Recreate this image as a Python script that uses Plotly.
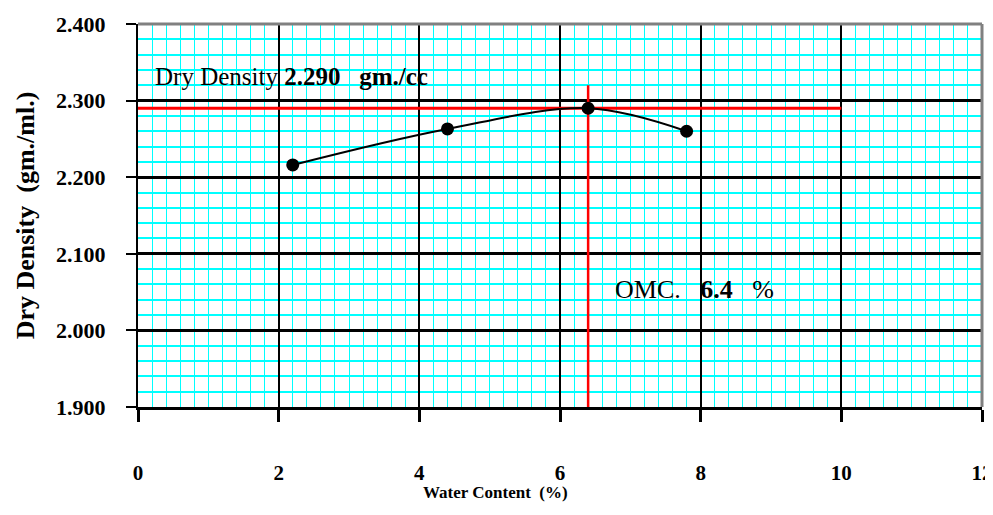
import plotly.graph_objects as go

# compaction test readings
water_content = [2.2, 4.4, 6.4, 7.8]
dry_density = [2.216, 2.263, 2.290, 2.260]

# result values
mdd = 2.290
omc = 6.4

x_ticks = [0, 2, 4, 6, 8, 10, 12]
y_ticks = [1.9, 2.0, 2.1, 2.2, 2.3, 2.4]
y_tick_text = ["1.900", "2.000", "2.100", "2.200", "2.300", "2.400"]

serif = "Liberation Serif, Times New Roman, serif"

fig = go.Figure()

# red guide lines for MDD / OMC
fig.add_trace(go.Scatter(
    x=[0, 10], y=[mdd, mdd], mode="lines",
    line=dict(color="#ff0000", width=3), hoverinfo="skip"
))
fig.add_trace(go.Scatter(
    x=[omc, omc], y=[1.9, 2.32], mode="lines",
    line=dict(color="#ff0000", width=2.5), hoverinfo="skip"
))

fig.add_trace(go.Scatter(
    x=water_content, y=dry_density, mode="lines+markers",
    line=dict(color="black", width=2, shape="spline", smoothing=1.0),
    marker=dict(color="black", size=13)
))

fig.add_annotation(
    x=0.22, y=2.331, xref="x", yref="y", xanchor="left", yanchor="middle",
    text="Dry Density <b>2.290   gm./cc</b>", showarrow=False,
    font=dict(family=serif, size=25, color="black")
)
fig.add_annotation(
    x=6.76, y=2.053, xref="x", yref="y", xanchor="left", yanchor="middle",
    text="OMC.   <b>6.4</b>   %", showarrow=False,
    font=dict(family=serif, size=26, color="black")
)
# x axis title (sits left of centre in the original)
fig.add_annotation(
    x=0.423, y=-0.222, xref="paper", yref="paper", xanchor="center", yanchor="middle",
    text="<b>Water Content  (%)</b>", showarrow=False,
    font=dict(family=serif, size=17, color="black")
)

# gray top/right frame
fig.add_shape(type="line", xref="paper", yref="paper", x0=0, x1=1, y0=1, y1=1,
              line=dict(color="#808080", width=3))
fig.add_shape(type="line", xref="paper", yref="paper", x0=1, x1=1, y0=0, y1=1,
              line=dict(color="#808080", width=3))

fig.update_xaxes(
    range=[0, 12], tickvals=x_ticks, ticks="outside", ticklen=12, tickwidth=3,
    tickcolor="black", ticklabelstandoff=33, automargin=False,
    tickfont=dict(family=serif, size=21, color="black", weight="bold"),
    showline=True, linecolor="black", linewidth=3,
    showgrid=True, gridcolor="black", gridwidth=2, zeroline=False,
    minor=dict(dtick=0.2, showgrid=True, gridcolor="#00ffff", gridwidth=1),
)
fig.update_yaxes(
    range=[1.9, 2.4], tickvals=y_ticks, ticktext=y_tick_text,
    ticks="outside", ticklen=10, tickwidth=2, tickcolor="black",
    ticklabelstandoff=16, automargin=False,
    tickfont=dict(family=serif, size=22, color="black", weight="bold"),
    showline=True, linecolor="black", linewidth=2,
    showgrid=True, gridcolor="black", gridwidth=2.5, zeroline=False,
    minor=dict(dtick=0.02, showgrid=True, gridcolor="#00ffff", gridwidth=1.5),
    title=dict(text="Dry Density  (gm./ml.)", standoff=14,
               font=dict(family=serif, size=26, color="black", weight="bold")),
)

# page body adds an 8px offset, so the figure is sized to fit the window
fig.update_layout(
    width=985, height=507,
    margin=dict(l=130, r=11, t=16, b=108),
    paper_bgcolor="white", plot_bgcolor="white",
    showlegend=False,
)

fig.write_html("out.html")
